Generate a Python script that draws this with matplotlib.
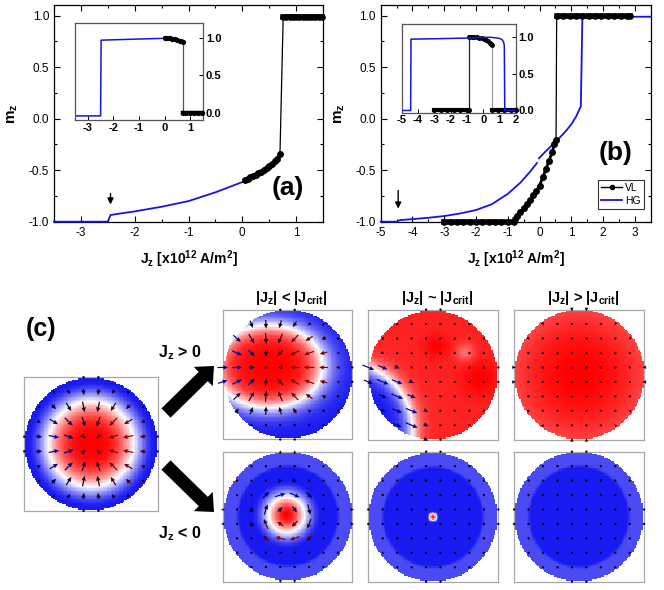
import numpy as np
import matplotlib
matplotlib.use('Agg')
import matplotlib.pyplot as plt
from matplotlib.colors import LinearSegmentedColormap, Normalize
from matplotlib.patches import FancyArrow
from matplotlib.lines import Line2D
from matplotlib.ticker import MultipleLocator, FormatStrFormatter

plt.rcParams['font.family'] = ['Liberation Sans', 'DejaVu Sans']
plt.rcParams['mathtext.fontset'] = 'custom'
plt.rcParams['mathtext.rm'] = 'Liberation Sans'
plt.rcParams['mathtext.it'] = 'Liberation Sans:italic'
plt.rcParams['mathtext.bf'] = 'Liberation Sans:bold'
plt.rcParams['axes.unicode_minus'] = False

# ---------------- panel (a) main
a_hg_x = [-3.5, -2.5, -2.45, -2.2, -2.0, -1.5, -1.0, -0.5, -0.2, 0.0]
a_hg_y = [-1.0, -1.0, -0.935, -0.915, -0.90, -0.855, -0.80, -0.715, -0.655, -0.615]
a_vl_rise_x = [0.05, 0.1, 0.15, 0.2, 0.25, 0.3, 0.35, 0.4, 0.45, 0.5, 0.55, 0.6, 0.65, 0.7]
a_vl_rise_y = [-0.595, -0.583, -0.570, -0.556, -0.542, -0.528, -0.513, -0.496,
               -0.478, -0.459, -0.438, -0.414, -0.388, -0.345]
a_vl_top_x = [0.76, 0.82, 0.88, 0.94, 1.0, 1.06, 1.12, 1.18, 1.24, 1.30, 1.36, 1.42, 1.48]
a_vl_top_y = [0.99] * len(a_vl_top_x)

# ---------------- panel (a) inset
ia_hg_x = [-3.5, -2.5, -2.48, -1.5, -0.5, 0.0]
ia_hg_y = [-0.045, -0.045, 0.97, 0.98, 0.99, 0.995]
ia_vl_x = [0.0, 0.1, 0.2, 0.3, 0.4, 0.5, 0.6, 0.65, 0.70]
ia_vl_y = [1.0, 0.998, 0.993, 0.987, 0.98, 0.972, 0.962, 0.955, 0.945]
ia_vl_low_x = [0.72, 0.85, 1.0, 1.15, 1.3, 1.45]
ia_vl_low_y = [0.0] * len(ia_vl_low_x)

# ---------------- panel (b) main
b_hg1_x = [-5.0, -4.5, -4.4, -4.0, -3.5, -3.0, -2.5, -2.0, -1.5, -1.0, -0.6, -0.3, -0.08]
b_hg1_y = [-1.0, -1.0, -0.985, -0.975, -0.962, -0.945, -0.92, -0.887, -0.83, -0.73,
           -0.62, -0.515, -0.43]
b_hg2_x = [-0.02, 0.2, 0.4, 0.6, 0.8, 1.0, 1.15, 1.3, 1.35, 2.0, 2.5, 3.0, 3.5]
b_hg2_y = [-0.385, -0.315, -0.255, -0.195, -0.13, -0.055, 0.02, 0.12, 0.99, 0.99, 0.99, 0.99, 0.99]
b_vl_low_x = [-3.0, -2.8, -2.6, -2.4, -2.2, -2.0, -1.8, -1.6, -1.4, -1.2, -1.0, -0.8]
b_vl_low_y = [-1.0] * len(b_vl_low_x)
b_vl_rise_x = [-0.76, -0.7, -0.6, -0.5, -0.4, -0.3, -0.2, -0.1, 0.0, 0.1, 0.2, 0.3, 0.4, 0.47, 0.52]
b_vl_rise_y = [-0.97, -0.945, -0.91, -0.87, -0.83, -0.79, -0.745, -0.70, -0.65,
               -0.57, -0.49, -0.41, -0.32, -0.25, -0.21]
b_vl_top_x = [0.54, 0.75, 0.95, 1.15, 1.35, 1.55, 1.75, 1.95, 2.15, 2.35, 2.55, 2.75, 2.85]
b_vl_top_y = [1.0] * len(b_vl_top_x)

# ---------------- panel (b) inset
ib_hg_x = [-5.0, -4.45, -4.43, -3.0, -1.0, 0.0, 0.5, 1.0, 1.15, 1.25, 1.3, 1.33, 2.0]
ib_hg_y = [0.0, 0.0, 0.965, 0.97, 0.98, 0.99, 0.99, 0.975, 0.96, 0.93, 0.88, 0.0, 0.0]
ib_vl_low1_x = [-3.0, -2.6, -2.2, -1.8, -1.4, -1.0, -0.85]
ib_vl_low1_y = [0.0] * len(ib_vl_low1_x)
ib_vl_high_x = [-0.85, -0.7, -0.55, -0.4, -0.25, -0.1, 0.05, 0.2, 0.3, 0.4, 0.5, 0.55]
ib_vl_high_y = [1.0, 1.0, 0.997, 0.993, 0.987, 0.978, 0.965, 0.95, 0.935, 0.915, 0.895, 0.88]
ib_vl_low2_x = [0.55, 0.9, 1.3, 1.7, 2.0]
ib_vl_low2_y = [0.0] * len(ib_vl_low2_x)

# ---------------- panel (c) magnetisation states (centre x, y / wall radius / width)
init_core = (0.0, 0.0)
init_wall, init_edge = 0.64, 0.97
init_arrow_span = 0.97
top1_core = (-0.3, 0.12)
top1_axes = (0.84, 0.64)
top1_width = 0.3
top1_arrow_span = 1.45
top2_bubble = (-1.35, -0.85)
top2_wall, top2_width = 1.02, 0.16
top2_dir = (0.92, -0.38)
top3_tilt = 0.27
bot1_core = (-0.02, 0.02)
bot1_edge = 0.55
bot1_arrow_span = 0.65
bot2_edge = 0.10
edge_ring_r, edge_ring_lift = 0.78, 0.22

col_titles = ['|J$_\\mathbf{z}$| < |J$_\\mathbf{crit}$|',
              '|J$_\\mathbf{z}$| ~ |J$_\\mathbf{crit}$|',
              '|J$_\\mathbf{z}$| > |J$_\\mathbf{crit}$|']

W, H = 664, 590
fig = plt.figure(figsize=(W / 100, H / 100), dpi=100)


def px_axes(x0, y0, x1, y1):
    return fig.add_axes([x0 / W, 1 - y1 / H, (x1 - x0) / W, (y1 - y0) / H])


BLUE = '#1414e6'


def style_main(ax, xlim):
    ax.set_xlim(*xlim)
    ax.set_ylim(-1.0, 1.104)
    ax.xaxis.set_major_locator(MultipleLocator(1))
    ax.xaxis.set_minor_locator(MultipleLocator(0.5))
    ax.yaxis.set_major_locator(MultipleLocator(0.5))
    ax.yaxis.set_minor_locator(MultipleLocator(0.25))
    ax.xaxis.set_major_formatter(FormatStrFormatter('%d'))
    ax.yaxis.set_major_formatter(FormatStrFormatter('%.1f'))
    ax.tick_params(which='both', direction='in', top=True, right=True, labelsize=8.5, width=0.8)
    ax.tick_params(which='major', length=4)
    ax.tick_params(which='minor', length=2)
    for s in ax.spines.values():
        s.set_linewidth(0.9)
    ax.set_xlabel('J$_\\mathbf{z}$ [x10$^\\mathbf{12}$ A/m$^\\mathbf{2}$]', fontsize=10,
                  fontweight='bold', labelpad=7)
    ax.set_ylabel('m$_\\mathbf{z}$', fontsize=11, fontweight='bold', labelpad=6)


def style_inset(ax, xlim, ylim, xt):
    ax.set_xlim(*xlim)
    ax.set_ylim(*ylim)
    ax.yaxis.tick_right()
    ax.set_xticks(xt, [str(v) for v in xt], fontweight='bold', fontsize=8)
    ax.set_yticks([0.0, 0.5, 1.0], ['0.0', '0.5', '1.0'], fontweight='bold', fontsize=8)
    ax.tick_params(direction='in', length=3, width=0.7, pad=2)
    for s in ax.spines.values():
        s.set_color('#555555')
        s.set_linewidth(0.9)


def flat(ax, x, y, ms=4.8, lw=4.0):
    ax.plot(x, y, '-o', color='k', lw=lw, ms=ms, mew=0, clip_on=False, zorder=4)


def dots(ax, x, y, ms=5.0):
    ax.plot(x, y, '-o', color='k', lw=2.0, ms=ms, mew=0, clip_on=False, zorder=4)


def jump(ax, p0, p1, color='k'):
    ax.plot([p0[0], p1[0]], [p0[1], p1[1]], color=color, lw=0.9, zorder=3)


# ---- (a)
ax_a = px_axes(54, 5, 323, 221.7)
style_main(ax_a, (-3.5, 1.5))
ax_a.plot(a_hg_x, a_hg_y, color=BLUE, lw=1.3, clip_on=False, zorder=3)
dots(ax_a, a_vl_rise_x, a_vl_rise_y)
jump(ax_a, (a_vl_rise_x[-1], a_vl_rise_y[-1]), (a_vl_top_x[0], a_vl_top_y[0]))
flat(ax_a, a_vl_top_x, a_vl_top_y)
ax_a.annotate('', xy=(-2.45, -0.86), xytext=(-2.45, -0.70),
              arrowprops=dict(arrowstyle='-|>', color='k', lw=1.0, mutation_scale=9))
ax_a.text(0.87, 0.155, '(a)', transform=ax_a.transAxes, fontsize=19, fontweight='bold',
          ha='center', va='center')

ins_a = px_axes(75, 23, 203, 120)
style_inset(ins_a, (-3.5, 1.5), (-0.1, 1.2), [-3, -2, -1, 0, 1])
ins_a.plot(ia_hg_x, ia_hg_y, color=BLUE, lw=1.1)
dots(ins_a, ia_vl_x, ia_vl_y, ms=3.8)
jump(ins_a, (ia_vl_x[-1], ia_vl_y[-1]), (ia_vl_low_x[0] - 0.02, ia_vl_low_y[0]), color='#555555')
flat(ins_a, ia_vl_low_x, ia_vl_low_y, ms=3.8, lw=3.2)

# ---- (b)
ax_b = px_axes(380.7, 5, 650.7, 221.7)
style_main(ax_b, (-5, 3.5))
ax_b.plot(b_hg1_x, b_hg1_y, color=BLUE, lw=1.3, clip_on=False, zorder=3)
ax_b.plot(b_hg2_x, b_hg2_y, color=BLUE, lw=1.3, clip_on=False, zorder=3)
flat(ax_b, b_vl_low_x, b_vl_low_y)
dots(ax_b, b_vl_rise_x, b_vl_rise_y)
jump(ax_b, (b_vl_rise_x[-1], b_vl_rise_y[-1]), (b_vl_top_x[0], b_vl_top_y[0]))
flat(ax_b, b_vl_top_x, b_vl_top_y)
ax_b.annotate('', xy=(-4.45, -0.90), xytext=(-4.45, -0.67),
              arrowprops=dict(arrowstyle='-|>', color='k', lw=1.0, mutation_scale=9))
ax_b.text(0.87, 0.315, '(b)', transform=ax_b.transAxes, fontsize=19, fontweight='bold',
          ha='center', va='center')
handles = [Line2D([], [], color='k', lw=1, marker='o', ms=4, mew=0),
           Line2D([], [], color=BLUE, lw=1.3)]
leg = ax_b.legend(handles, ['VL', 'HG'], loc='lower right', bbox_to_anchor=(0.975, 0.06),
                  fontsize=7.5, frameon=True, fancybox=False, borderpad=0.3,
                  handlelength=2.0, handletextpad=0.3, labelspacing=0.25, borderaxespad=0)
leg.get_frame().set_edgecolor('k')
leg.get_frame().set_linewidth(0.8)

ins_b = px_axes(401.7, 24, 515.7, 112.7)
style_inset(ins_b, (-5, 2), (-0.03, 1.17), [-5, -4, -3, -2, -1, 0, 1, 2])
flat(ins_b, ib_vl_low1_x, ib_vl_low1_y, ms=3.6, lw=3.0)
jump(ins_b, (ib_vl_high_x[0], 0.0), (ib_vl_high_x[0], ib_vl_high_y[0]), color='#222222')
dots(ins_b, ib_vl_high_x, ib_vl_high_y, ms=3.6)
jump(ins_b, (ib_vl_high_x[-1], ib_vl_high_y[-1]), (ib_vl_low2_x[0], 0.0), color='#999999')
flat(ins_b, ib_vl_low2_x, ib_vl_low2_y, ms=3.6, lw=3.0)
ins_b.plot(ib_hg_x, ib_hg_y, color=BLUE, lw=1.1, zorder=5)

# ---------------- panel (c)
mz_cmap = LinearSegmentedColormap.from_list(
    'mz', [(0.0, (0.1, 0.1, 0.95)), (0.5, (1, 1, 1)), (1.0, (1.0, 0.0, 0.0))])
mz_cmap.set_bad((1, 1, 1, 0))
arrow_cmap = LinearSegmentedColormap.from_list('mx', [(0.6, 0, 0), (0, 0, 0), (0, 0, 0.6)])


def gauss(X, Y, cx, cy, s):
    return np.exp(-((X - cx) ** 2 + (Y - cy) ** 2) / (2 * s * s))


def state_field(name, X, Y):
    r = np.hypot(X, Y)
    rs = np.maximum(r, 1e-9)
    lift = edge_ring_lift * 0.5 * (1 + np.tanh((r - edge_ring_r) / 0.02))
    if name == 'init':
        dx, dy = X - init_core[0], Y - init_core[1]
        d = np.maximum(np.hypot(dx, dy), 1e-9)
        p = np.log(0.5) / np.log(init_wall / init_edge)
        th = np.pi * np.clip(d / init_edge, 0, 1) ** p
        mz = np.cos(th)
        ip = np.sin(np.pi * np.clip(d / init_arrow_span, 0, 1))
        mx, my = -ip * dx / d, -ip * dy / d
    elif name == 'top1':
        dx, dy = X - top1_core[0], Y - top1_core[1]
        d = np.maximum(np.hypot(dx, dy), 1e-9)
        e = np.hypot(dx / top1_axes[0], dy / top1_axes[1])
        mz = -np.tanh((e - 1) / top1_width)
        ip = np.sin(np.pi * np.clip(e / top1_arrow_span, 0, 1))
        mx, my = -ip * dx / d, -ip * dy / d
    elif name == 'top2':
        d = np.hypot(X - top2_bubble[0], Y - top2_bubble[1])
        base = np.tanh((d - top2_wall) / top2_width)
        red = (0.86 + 0.14 * gauss(X, Y, 0.05, 0.45, 0.14) + 0.14 * gauss(X, Y, 0.72, -0.05, 0.2)
               - 0.3 * gauss(X, Y, 0.5, 0.35, 0.1))
        mz = red * (1 + base) / 2 - (1 - base) / 2
        ip = np.sqrt(np.clip(1 - base ** 2, 0, 1)) + 0.4 * (1 - base) / 2
        mx = ip * top2_dir[0]
        my = ip * top2_dir[1]
    elif name == 'top3':
        mz = 1 - top3_tilt * r ** 2
        mx, my = -0.35 * r ** 3 * X / rs, -0.35 * r ** 3 * Y / rs
    elif name in ('bot1', 'bot2'):
        cx, cy = bot1_core if name == 'bot1' else (0.0, 0.0)
        edge = bot1_edge if name == 'bot1' else bot2_edge
        span = bot1_arrow_span if name == 'bot1' else bot2_edge
        dx, dy = X - cx, Y - cy
        d = np.maximum(np.hypot(dx, dy), 1e-9)
        th = np.pi * np.clip(d / edge, 0, 1)
        mz = np.cos(th) + lift
        ip = np.sin(np.pi * np.clip(d / span, 0, 1))
        out = 0.3 * r ** 6 if name == 'bot1' else 0.15 * r ** 6
        mx = ip * dy / d + out * X / rs
        my = -ip * dx / d + out * Y / rs
    else:
        mz = -1 + lift
        mx, my = 0.1 * r ** 6 * X / rs, 0.1 * r ** 6 * Y / rs
    mz = np.where(r <= 1.0, np.clip(mz, -1, 1), np.nan)
    return mz, mx, my


gi = np.linspace(-1, 1, 100)
GX, GY = np.meshgrid(gi, gi)
gq = np.linspace(-1, 1, 10)
QX, QY = np.meshgrid(gq, gq)
qin = np.hypot(QX, QY) <= 1.01


def draw_state(name, rect):
    ax = px_axes(*rect)
    mz, _, _ = state_field(name, GX, GY)
    ax.imshow(np.ma.masked_invalid(mz), extent=(-1, 1, -1, 1), origin='lower', cmap=mz_cmap,
              vmin=-1, vmax=1, interpolation='nearest')
    _, mx, my = state_field(name, QX, QY)
    ax.quiver(QX[qin], QY[qin], mx[qin], my[qin], mx[qin], cmap=arrow_cmap,
              norm=Normalize(-1, 1), pivot='middle', angles='xy', scale_units='xy', scale=6.0,
              width=0.009, headwidth=3.8, headlength=4.2, headaxislength=3.8, minlength=2.2,
              clip_on=False, zorder=3)
    ax.set_xlim(-1, 1)
    ax.set_ylim(-1, 1)
    ax.set_xticks([])
    ax.set_yticks([])
    for s in ax.spines.values():
        s.set_color('#a8a8a8')
        s.set_linewidth(0.9)
    return ax


draw_state('init', (24.3, 377.3, 157.7, 510.7))
cols = [(222.7, 352.3), (368.3, 498.3), (514, 644.3)]
top_names = ['top1', 'top2', 'top3']
bot_names = ['bot1', 'bot2', 'bot3']
for (x0, x1), tn, bn in zip(cols, top_names, bot_names):
    draw_state(tn, (x0, 309.3, x1, 440))
    draw_state(bn, (x0, 451.7, x1, 581.7))

# overlay in pixel coordinates for labels and big arrows
ov = fig.add_axes([0, 0, 1, 1], zorder=10)
ov.set_xlim(0, W)
ov.set_ylim(H, 0)
ov.axis('off')
for (x0, x1), t in zip(cols, col_titles):
    ov.text((x0 + x1) / 2 + 4, 298, t, fontsize=10.5, fontweight='bold', ha='center', va='center')
ov.text(41.5, 329, '(c)', fontsize=18, fontweight='bold', ha='center', va='center')
ov.text(180, 353, 'J$_\\mathbf{z}$ > 0', fontsize=11.5, fontweight='bold', ha='center', va='center')
ov.text(180, 534, 'J$_\\mathbf{z}$ < 0', fontsize=11.5, fontweight='bold', ha='center', va='center')
ov.add_patch(FancyArrow(166, 413, 48, -47, width=13, head_width=27, head_length=15,
                        length_includes_head=True, color='k', lw=0))
ov.add_patch(FancyArrow(166, 465, 48, 47, width=13, head_width=27, head_length=15,
                        length_includes_head=True, color='k', lw=0))

fig.savefig('out.png', dpi=100)
